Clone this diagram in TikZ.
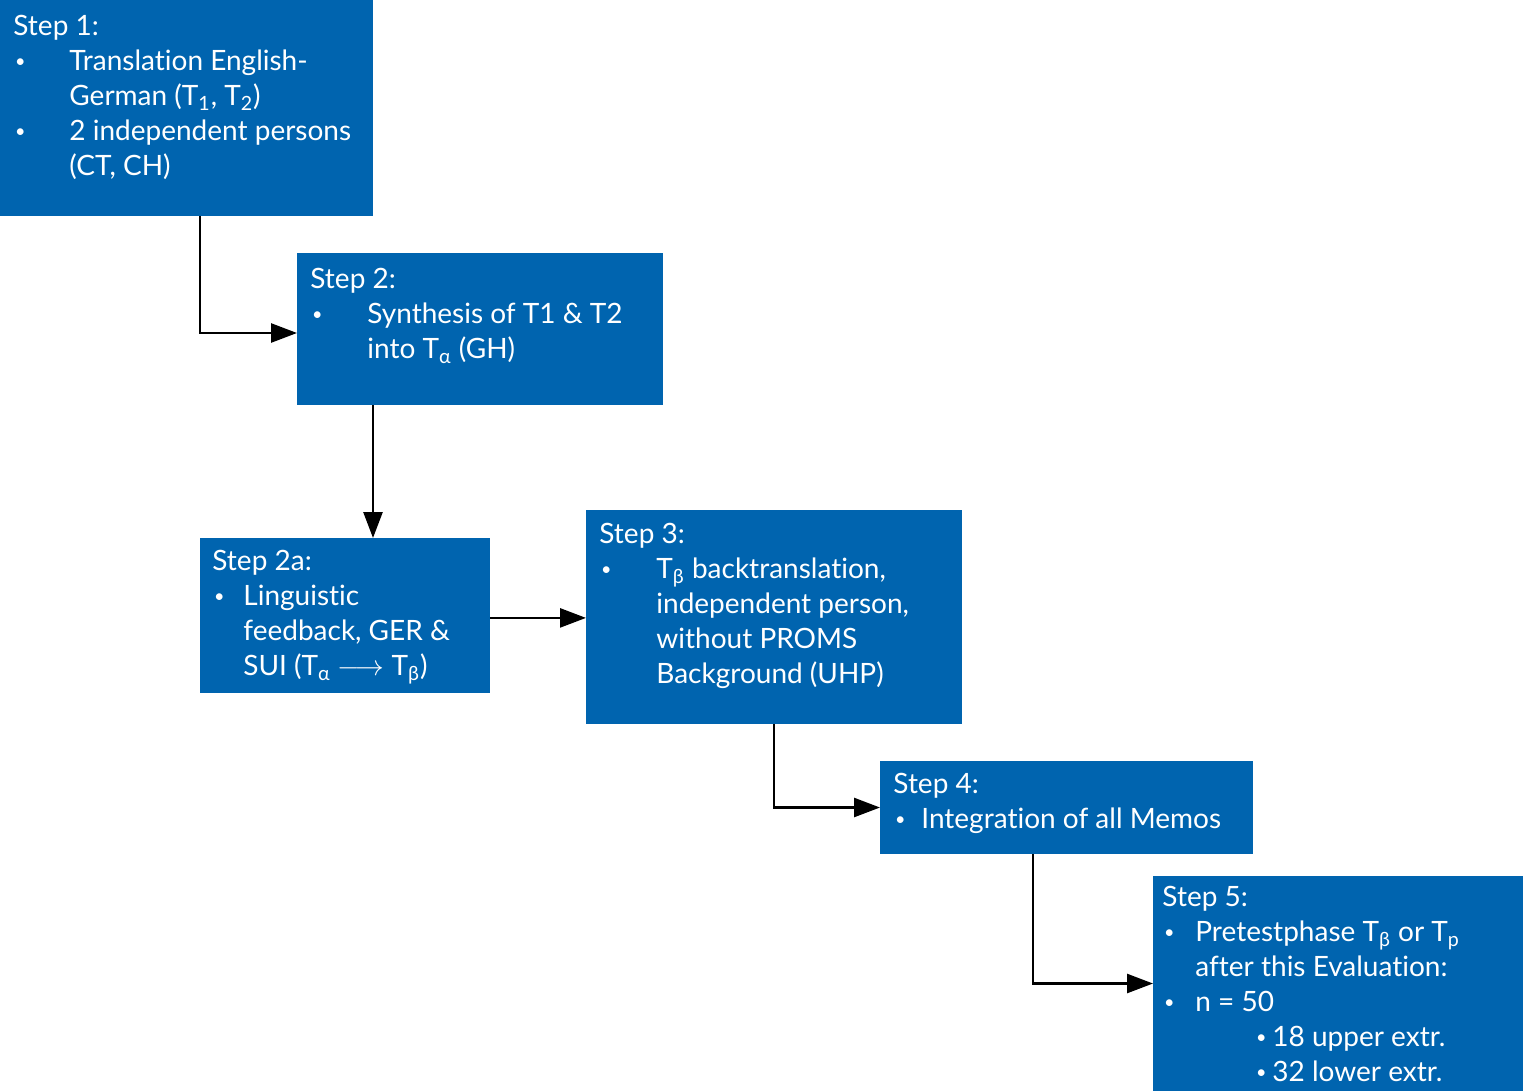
\documentclass[tikz,border=0pt]{standalone}
\usepackage{fontspec}
\setmainfont{Lato}[Ligatures=NoCommon]
\usetikzlibrary{arrows.meta}
\definecolor{stepblue}{HTML}{0064AF}
\newcommand{\itm}[2]{\makebox[#1][l]{\hspace{0.8pt}\raisebox{1.4pt}{\fontsize{9}{9}\selectfont\textbullet}}#2}
\newcommand{\cnt}[1]{\hspace*{#1}}
\newcommand{\drawstep}[5]{
  \node[stepbox, minimum width={(#4-#2)*0.5pt}, minimum height={(#5-#3)*0.5pt}]
    (#1) at ({(#2+#4)/2}, {(#3+#5)/2}) {};
}

\begin{document}
\begin{tikzpicture}[x=0.5pt, y=-0.5pt,
    stepbox/.style={fill=stepblue, inner sep=0pt, outer sep=0pt},
    steptext/.style={anchor=north west, inner sep=0pt, text=white, align=left,
      font=\fontsize{14}{17.5}\selectfont},
    arr/.style={-{Triangle[length=13pt, width=9.5pt]}, line width=1.3pt}]
    \useasboundingbox (0,0) rectangle (1524,1091);

    % boxes
    \drawstep{s1}{0}{0}{373}{216}
    \drawstep{s2}{297}{253}{663}{405}
    \drawstep{s2a}{200}{538}{490}{693}
    \drawstep{s3}{586}{510}{962}{724}
    \drawstep{s4}{880}{761}{1253}{854}
    \drawstep{s5}{1153}{876}{1523}{1091}

    % texts
    \node[steptext] (s1t) at (13, 15) {Step 1:\\
      \itm{28pt}{Translation English-}\\
      \cnt{28pt}German (T\textsubscript{1}, T\textsubscript{2})\\
      \itm{28pt}{2 independent persons}\\
      \cnt{28pt}(CT, CH)};
    \node[steptext] (s2t) at (310, 268) {Step 2:\\
      \itm{28.5pt}{Synthesis of T1 \& T2}\\
      \cnt{28.5pt}into T\textsubscript{α} (GH)};
    \node[steptext] (s2at) at (212, 550) {Step 2a:\\
      \itm{15.5pt}{Linguistic}\\
      \cnt{15.5pt}feedback, GER \&\\
      \cnt{15.5pt}SUI (T\textsubscript{α} $\longrightarrow$ T\textsubscript{β})};
    \node[steptext] (s3t) at (599, 523) {Step 3:\\
      \itm{28.5pt}{T\textsubscript{β} backtranslation,}\\
      \cnt{28.5pt}independent person,\\
      \cnt{28.5pt}without PROMS\\
      \cnt{28.5pt}Background (UHP)};
    \node[steptext] (s4t) at (893, 773) {Step 4:\\
      \itm{14pt}{Integration of all Memos}};
    \node[steptext] (s5t) at (1162, 886) {Step 5:\\
      \itm{16.5pt}{Pretestphase T\textsubscript{β} or T\textsubscript{p}}\\
      \cnt{16.5pt}after this Evaluation:\\
      \itm{16.5pt}{n = 50}\\
      \cnt{46pt}\itm{9pt}{18 upper extr.}\\
      \cnt{46pt}\itm{9pt}{32 lower extr.}};

    % connectors
    \coordinate (k1) at (200, 0);
    \coordinate (k2) at (373, 0);
    \coordinate (k4) at (1033, 0);
    \draw[arr] (s1.south -| k1) |- ([yshift=-2pt]s2.west);
    \draw[arr] (s2.south -| k2) -- (s2a.north -| k2);
    \draw[arr] ([yshift=-1.2pt]s2a.east) -- ([yshift=-1.2pt]s2a.east -| s3.west);
    \draw[arr] (s3.south) |- (s4.west);
    \draw[arr] (s4.south -| k4) |- (s5.west);
\end{tikzpicture}
\end{document}
